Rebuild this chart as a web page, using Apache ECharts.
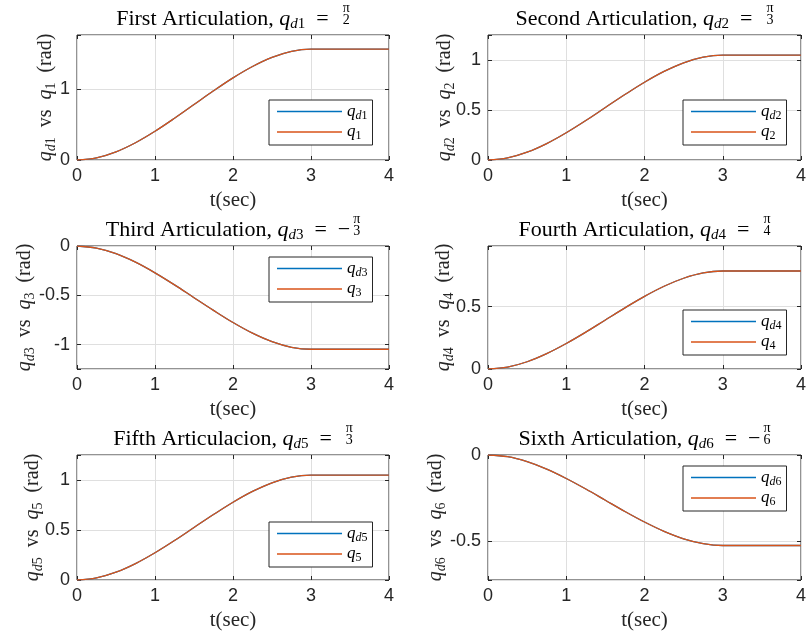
<!DOCTYPE html>
<html>
<head>
<meta charset="utf-8">
<script src="https://cdn.jsdelivr.net/npm/echarts@6/dist/echarts.min.js"></script>
<style>
  html, body { margin: 0; padding: 0; background: #fff; }
  #chart { width: 806px; height: 633px; }
</style>
</head>
<body>
<div id="chart"></div>
<script>
// ---- sampled joint trajectories (rad), t in seconds ----
const time = [0, 0.25, 0.5, 0.75, 1, 1.25, 1.5, 1.75, 2, 2.25, 2.5, 2.75, 3, 3.25, 3.5, 3.75, 4];

const qd1 = [0, 0.031, 0.116, 0.245, 0.407, 0.591, 0.785, 0.980, 1.164, 1.325, 1.454, 1.540, 1.571, 1.571, 1.571, 1.571, 1.571];
const q1  = [0, 0.031, 0.116, 0.245, 0.407, 0.591, 0.785, 0.980, 1.164, 1.325, 1.454, 1.540, 1.571, 1.571, 1.571, 1.571, 1.571];
const qd2 = [0, 0.021, 0.078, 0.164, 0.272, 0.394, 0.524, 0.653, 0.776, 0.884, 0.970, 1.027, 1.047, 1.047, 1.047, 1.047, 1.047];
const q2  = [0, 0.021, 0.078, 0.164, 0.272, 0.394, 0.524, 0.653, 0.776, 0.884, 0.970, 1.027, 1.047, 1.047, 1.047, 1.047, 1.047];
const qd3 = [0, -0.021, -0.078, -0.164, -0.272, -0.394, -0.524, -0.653, -0.776, -0.884, -0.970, -1.027, -1.047, -1.047, -1.047, -1.047, -1.047];
const q3  = [0, -0.021, -0.078, -0.164, -0.272, -0.394, -0.524, -0.653, -0.776, -0.884, -0.970, -1.027, -1.047, -1.047, -1.047, -1.047, -1.047];
const qd4 = [0, 0.015, 0.058, 0.123, 0.204, 0.295, 0.393, 0.490, 0.582, 0.663, 0.727, 0.770, 0.785, 0.785, 0.785, 0.785, 0.785];
const q4  = [0, 0.015, 0.058, 0.123, 0.204, 0.295, 0.393, 0.490, 0.582, 0.663, 0.727, 0.770, 0.785, 0.785, 0.785, 0.785, 0.785];
const qd5 = [0, 0.021, 0.078, 0.164, 0.272, 0.394, 0.524, 0.653, 0.776, 0.884, 0.970, 1.027, 1.047, 1.047, 1.047, 1.047, 1.047];
const q5  = [0, 0.021, 0.078, 0.164, 0.272, 0.394, 0.524, 0.653, 0.776, 0.884, 0.970, 1.027, 1.047, 1.047, 1.047, 1.047, 1.047];
const qd6 = [0, -0.010, -0.039, -0.082, -0.136, -0.197, -0.262, -0.327, -0.388, -0.442, -0.485, -0.513, -0.524, -0.524, -0.524, -0.524, -0.524];
const q6  = [0, -0.010, -0.039, -0.082, -0.136, -0.197, -0.262, -0.327, -0.388, -0.442, -0.485, -0.513, -0.524, -0.524, -0.524, -0.524, -0.524];

const desired = [qd1, qd2, qd3, qd4, qd5, qd6];
const actual  = [q1, q2, q3, q4, q5, q6];

// ---- titles and axis settings ----
const titleWords = ['First Articulation, ', 'Second Articulation, ', 'Third Articulation, ',
                    'Fourth Articulation, ', 'Fifth Articulacion, ', 'Sixth Articulation, '];
const goalSign = ['', '', '\u2212', '', '', '\u2212'];
const goalNum  = ['\u03c0', '\u03c0', '\u03c0', '\u03c0', '\u03c0', '\u03c0'];
const goalDen  = ['2', '3', '3', '4', '3', '6'];

const xTicks = [0, 1, 2, 3, 4];
const yMin  = [0, 0, -1.2472, 0, 0, -0.7236];
const yMax  = [1.7708, 1.2472, 0, 0.9854, 1.2472, 0];
const yStep = [1, 0.5, 0.5, 0.5, 0.5, 0.5];

// ---- layout ----
const grids = [
  { left: 77,  top: 35,  width: 312, height: 125 },
  { left: 488, top: 35,  width: 313, height: 125 },
  { left: 77,  top: 246, width: 312, height: 123 },
  { left: 488, top: 246, width: 313, height: 123 },
  { left: 77,  top: 455, width: 312, height: 125 },
  { left: 488, top: 455, width: 313, height: 125 }
];
const legendPos = [[269, 100], [683, 100], [269, 257], [683, 310], [269, 522], [683, 466]];
const yNameGap = [19, 31, 40, 32, 32, 40];

const SERIF = '"Liberation Serif", "DejaVu Serif", serif';
const SANS = '"Liberation Sans", Arial, sans-serif';
const INK = '#262626';
const BLUE = '#0072BD';
const ORANGE = '#D95319';
const TITLE_PX = 22;

const labelRich = {
  r:  { fontFamily: SERIF, fontSize: 20, lineHeight: 24, color: INK },
  i:  { fontFamily: SERIF, fontSize: 20, lineHeight: 24, color: INK, fontStyle: 'italic' },
  si: { fontFamily: SERIF, fontSize: 14, lineHeight: 14, color: INK, fontStyle: 'italic', verticalAlign: 'bottom' },
  sn: { fontFamily: SERIF, fontSize: 14, lineHeight: 14, color: INK, verticalAlign: 'bottom' }
};
const titleRich = {
  r:  { fontFamily: SERIF, fontSize: TITLE_PX, lineHeight: 26, color: '#000' },
  i:  { fontFamily: SERIF, fontSize: TITLE_PX, lineHeight: 26, color: '#000', fontStyle: 'italic' },
  si: { fontFamily: SERIF, fontSize: 15, lineHeight: 15, color: '#000', fontStyle: 'italic', verticalAlign: 'bottom' },
  sn: { fontFamily: SERIF, fontSize: 15, lineHeight: 15, color: '#000', verticalAlign: 'bottom' }
};
const legendRich = {
  i:  { fontFamily: SERIF, fontSize: 17, lineHeight: 20, color: '#000', fontStyle: 'italic' },
  si: { fontFamily: SERIF, fontSize: 12, lineHeight: 12, color: '#000', fontStyle: 'italic', verticalAlign: 'bottom' },
  sn: { fontFamily: SERIF, fontSize: 12, lineHeight: 12, color: '#000', verticalAlign: 'bottom' }
};

// text measuring for centring the composed titles
const ctx = document.createElement('canvas').getContext('2d');
function textW(font, s) { ctx.font = font; return ctx.measureText(s).width; }

function tickFormatter(step) {
  return function (v) {
    const k = v / step;
    if (Math.abs(k - Math.round(k)) > 1e-6) return '';
    return String(+v.toFixed(2));
  };
}

const xAxes = [], yAxes = [], series = [], legends = [], graphics = [];

grids.forEach((g, k) => {
  const n = k + 1;
  // bottom x axis with labels
  xAxes.push({
    gridIndex: k, type: 'value', position: 'bottom', min: 0, max: 4, interval: 1,
    axisLine: { show: false, onZero: false },
    axisTick: { show: true, inside: true, length: 4, lineStyle: { color: INK } },
    axisLabel: { show: true, margin: 7, color: INK, fontFamily: SANS, fontSize: 18,
                 formatter: v => (xTicks.indexOf(v) >= 0 ? String(v) : '') },
    splitLine: { show: true, lineStyle: { color: '#dfdfdf', width: 1 } },
    name: 't(sec)', nameLocation: 'middle', nameGap: 30, nameMoveOverlap: false,
    nameTextStyle: { fontFamily: SERIF, fontSize: 21, color: INK }
  });
  // top x axis: ticks only
  xAxes.push({
    gridIndex: k, type: 'value', position: 'top', min: 0, max: 4, interval: 1,
    axisLine: { show: false, onZero: false },
    axisTick: { show: true, inside: true, length: 4, lineStyle: { color: INK } },
    axisLabel: { show: false }, splitLine: { show: false }
  });
  const yCommon = {
    gridIndex: k, type: 'value', min: yMin[k], max: yMax[k],
    minInterval: yStep[k], maxInterval: yStep[k]
  };
  yAxes.push(Object.assign({}, yCommon, {
    position: 'left',
    axisLine: { show: false, onZero: false },
    axisTick: { show: true, inside: true, length: 4, lineStyle: { color: INK } },
    axisLabel: { show: true, margin: 7, color: INK, fontFamily: SANS, fontSize: 18,
                 formatter: tickFormatter(yStep[k]) },
    splitLine: { show: true, lineStyle: { color: '#dfdfdf', width: 1 } },
    name: '{i|q}{si|d}{sn|' + n + '}{r|  vs  }{i|q}{sn|' + n + '}{r|  (rad)}',
    nameLocation: 'middle', nameRotate: 90, nameGap: yNameGap[k], nameMoveOverlap: false,
    nameTextStyle: { rich: labelRich }
  }));
  yAxes.push(Object.assign({}, yCommon, {
    position: 'right',
    axisLine: { show: false, onZero: false },
    axisTick: { show: true, inside: true, length: 4, lineStyle: { color: INK } },
    axisLabel: { show: false }, splitLine: { show: false }
  }));

  const xi = 2 * k, yi = 2 * k;
  series.push({
    name: 'qd' + n, type: 'line', xAxisIndex: xi, yAxisIndex: yi,
    data: time.map((t, j) => [t, desired[k][j]]),
    symbol: 'none', smooth: 0.35, color: BLUE,
    lineStyle: { width: 1.3, color: BLUE }, z: 3
  });
  series.push({
    name: 'q' + n, type: 'line', xAxisIndex: xi, yAxisIndex: yi,
    data: time.map((t, j) => [t, actual[k][j]]),
    symbol: 'none', smooth: 0.35, color: ORANGE,
    lineStyle: { width: 1.3, color: ORANGE }, z: 4
  });

  legends.push({
    orient: 'vertical', left: legendPos[k][0], top: legendPos[k][1],
    data: ['qd' + n, 'q' + n], selectedMode: false,
    icon: 'rect', itemWidth: 65, itemHeight: 1.6, itemGap: 2, padding: [3, 5, 3, 8],
    backgroundColor: '#fff', borderColor: INK, borderWidth: 1, borderRadius: 0,
    formatter: name => name.startsWith('qd')
      ? '{i|q}{si|d}{sn|' + name.slice(2) + '}'
      : '{i|q}{sn|' + name.slice(1) + '}',
    textStyle: { rich: legendRich }
  });

  // composed title: words, q_{dk} = (sign) fraction
  const fR = TITLE_PX + 'px ' + SERIF, fI = 'italic ' + TITLE_PX + 'px ' + SERIF;
  const fSI = 'italic 15px ' + SERIF, fSN = '15px ' + SERIF;
  const eqText = '\u2002=\u2002' + goalSign[k];
  const mainW = textW(fR, titleWords[k]) + textW(fI, 'q') + textW(fSI, 'd') +
                textW(fSN, String(n)) + textW(fR, eqText);
  const fracFont = '14px ' + SERIF;
  const fracW = Math.max(textW(fracFont, goalNum[k]), textW(fracFont, goalDen[k]));
  const total = mainW + 3 + fracW;
  const cx = g.left + g.width / 2;
  const sx = cx - total / 2;
  graphics.push({
    type: 'text', x: sx, y: g.top - 16, z: 100,
    style: {
      text: '{r|' + titleWords[k] + '}{i|q}{si|d}{sn|' + n + '}{r|' + eqText + '}',
      rich: titleRich, align: 'left', verticalAlign: 'middle'
    }
  });
  const fx = sx + mainW + 3 + fracW / 2;
  graphics.push({
    type: 'text', x: fx, y: g.top - 27, z: 100,
    style: { text: goalNum[k], fontFamily: SERIF, fontSize: 14, fill: '#000',
             align: 'center', verticalAlign: 'middle' }
  });
  graphics.push({
    type: 'text', x: fx, y: g.top - 15, z: 100,
    style: { text: goalDen[k], fontFamily: SERIF, fontSize: 14, fill: '#000',
             align: 'center', verticalAlign: 'middle' }
  });
});

const chart = echarts.init(document.getElementById('chart'), null, { renderer: 'canvas' });
chart.setOption({
  animation: false,
  backgroundColor: '#fff',
  grid: grids.map(g => Object.assign({}, g, {
    show: true, borderColor: INK, borderWidth: 1, backgroundColor: '#fff',
    containLabel: false, outerBoundsMode: 'none'
  })),
  xAxis: xAxes,
  yAxis: yAxes,
  legend: legends,
  series: series,
  graphic: graphics
});
</script>
</body>
</html>
